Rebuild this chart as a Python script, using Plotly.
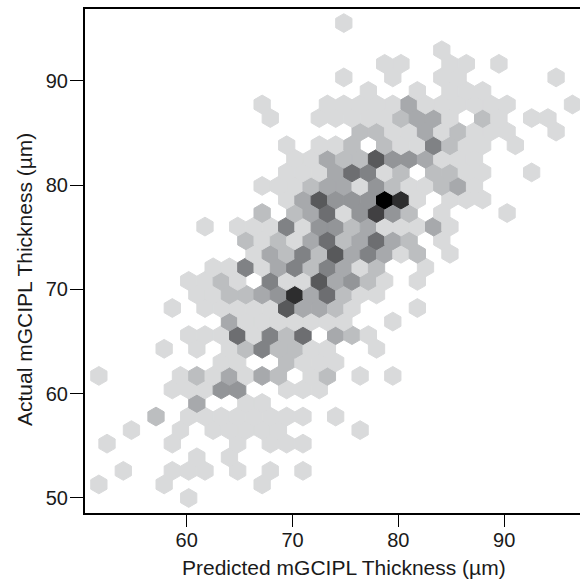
import plotly.graph_objects as go

# hexagon bin centres (um); odd rows are staggered by half a bin
predicted_even = [50.93, 52.47, 54.01, 55.56, 57.10, 58.64, 60.19, 61.73, 63.27, 64.82, 66.36, 67.90, 69.45, 70.99, 72.53, 74.08, 75.62, 77.17, 78.71, 80.25, 81.80, 83.34, 84.88, 86.43, 87.97, 89.51, 91.06, 92.60, 94.14, 95.69, 97.23]
predicted_odd = [51.70, 53.24, 54.78, 56.33, 57.87, 59.41, 60.96, 62.50, 64.04, 65.59, 67.13, 68.67, 70.22, 71.76, 73.30, 74.85, 76.39, 77.94, 79.48, 81.02, 82.57, 84.11, 85.65, 87.20, 88.74, 90.28, 91.83, 93.37, 94.91, 96.46, 98.00]
actual_rows = [50.00, 51.30, 52.60, 53.90, 55.21, 56.51, 57.81, 59.11, 60.41, 61.71, 63.01, 64.31, 65.62, 66.92, 68.22, 69.52, 70.82, 72.12, 73.42, 74.72, 76.03, 77.33, 78.63, 79.93, 81.23, 82.53, 83.83, 85.14, 86.44, 87.74, 89.04, 90.34, 91.64, 92.94, 94.24, 95.55]

row_bins = [
    [6],
    [0, 4, 10],
    [2, 5, 6, 7, 9, 11, 13],
    [6, 8],
    [1, 5, 9, 11, 12, 13],
    [2, 5, 7, 8, 9, 10, 11, 16],
    [4, 6, 7, 8, 9, 10, 11, 12, 13, 15],
    [6, 9, 10],
    [5, 6, 7, 8, 9, 12, 13, 14],
    [0, 5, 6, 7, 8, 9, 10, 11, 13, 14, 16, 18],
    [8, 9, 12, 13, 14, 15],
    [4, 6, 8, 9, 10, 11, 12, 13, 14, 17],
    [6, 7, 8, 9, 10, 11, 12, 13, 15, 16, 17],
    [8, 9, 10, 11, 12, 13, 14, 15, 18],
    [5, 7, 8, 9, 10, 11, 12, 13, 14, 15, 16, 20],
    [6, 7, 8, 9, 10, 11, 12, 13, 14, 15, 16, 17],
    [6, 7, 8, 9, 11, 12, 13, 14, 15, 16, 17, 18, 20],
    [7, 8, 9, 10, 11, 12, 13, 14, 15, 16, 17, 20],
    [10, 11, 12, 13, 14, 15, 16, 17, 18, 19, 20, 22],
    [9, 10, 11, 12, 13, 14, 15, 16, 17, 18, 19, 21],
    [7, 9, 10, 11, 12, 13, 14, 15, 16, 17, 18, 19, 20, 21, 22],
    [10, 12, 13, 14, 15, 16, 17, 18, 19, 21, 25],
    [12, 13, 14, 15, 16, 17, 18, 19, 20, 22, 23, 24],
    [10, 11, 12, 13, 14, 15, 16, 17, 18, 19, 20, 21, 22, 23],
    [12, 13, 14, 15, 16, 17, 18, 19, 21, 22, 23, 24, 27],
    [12, 13, 14, 15, 16, 17, 18, 19, 20, 21, 22, 23],
    [12, 14, 15, 16, 18, 19, 20, 21, 22, 23, 24, 26],
    [16, 17, 18, 19, 20, 21, 22, 23, 24, 25, 28],
    [11, 14, 15, 16, 17, 18, 19, 20, 21, 22, 24, 25, 27, 28],
    [10, 14, 15, 16, 17, 18, 19, 20, 21, 22, 23, 24, 25, 29],
    [17, 20, 22, 23, 24],
    [15, 18, 21, 22, 28],
    [18, 19, 22, 23, 25],
    [21],
    [],
    [15],
]
row_counts = [
    [1],
    [1, 1, 1],
    [1, 1, 1, 1, 1, 1, 1],
    [1, 1],
    [1, 1, 1, 1, 1, 1],
    [1, 1, 1, 1, 1, 1, 1, 1],
    [2, 1, 1, 1, 1, 1, 1, 1, 1, 1],
    [3, 1, 1],
    [1, 1, 1, 4, 4, 1, 1, 1],
    [1, 1, 2, 1, 3, 1, 3, 2, 1, 2, 1, 1],
    [1, 1, 2, 1, 1, 1],
    [1, 1, 1, 2, 5, 2, 2, 1, 1, 1],
    [1, 1, 1, 6, 1, 5, 2, 6, 3, 2, 1],
    [3, 1, 1, 1, 1, 1, 1, 1, 1],
    [1, 1, 1, 1, 1, 1, 7, 3, 3, 2, 1, 1],
    [1, 1, 2, 2, 3, 4, 9, 3, 6, 2, 1, 1],
    [1, 1, 2, 1, 5, 1, 1, 7, 3, 4, 2, 1, 1],
    [1, 1, 5, 1, 3, 5, 2, 5, 3, 1, 2, 1],
    [1, 3, 2, 5, 2, 7, 3, 5, 3, 1, 2, 1],
    [2, 1, 2, 1, 3, 6, 2, 3, 6, 3, 2, 1],
    [1, 1, 1, 1, 5, 1, 4, 4, 2, 3, 1, 1, 1, 3, 1],
    [2, 2, 3, 6, 1, 4, 8, 4, 2, 1, 1],
    [1, 3, 7, 4, 4, 4, 10, 9, 1, 1, 1, 1],
    [1, 1, 1, 2, 3, 3, 1, 4, 2, 1, 1, 2, 3, 1],
    [1, 1, 1, 3, 6, 5, 1, 2, 2, 2, 1, 1, 1],
    [1, 1, 3, 2, 2, 7, 4, 4, 3, 1, 1, 1],
    [1, 1, 1, 2, 2, 1, 1, 5, 2, 1, 1, 1],
    [2, 2, 1, 1, 3, 1, 2, 1, 1, 1, 1],
    [1, 1, 1, 1, 1, 1, 2, 3, 3, 1, 2, 1, 1, 1],
    [1, 1, 1, 1, 1, 1, 3, 1, 1, 1, 1, 1, 1, 1],
    [1, 1, 1, 1, 1],
    [1, 1, 1, 1, 1],
    [1, 1, 1, 1, 1],
    [1],
    [],
    [1],
]
shades = ["#ffffff", "#d9dadb", "#bcbec0", "#a7a9ac", "#939598", "#808285", "#6d6e71", "#58595b", "#414042", "#2d2d2e", "#000000"]
x_ticks = [60, 70, 80, 90]
y_ticks = [50, 60, 70, 80, 90]
x_title = "Predicted mGCIPL Thickness (µm)"
y_title = "Actual mGCIPL Thickness (µm)"

xs, ys, colors = [], [], []
for r, (bins, counts) in enumerate(zip(row_bins, row_counts)):
    centres = predicted_odd if r % 2 else predicted_even
    for b, c in zip(bins, counts):
        xs.append(centres[b])
        ys.append(actual_rows[r])
        colors.append(shades[c])

fig = go.Figure(go.Scatter(
    x=xs, y=ys, mode="markers", hoverinfo="skip",
    marker=dict(symbol="hexagon", size=18.8, color=colors, line=dict(color=colors, width=1)),
))
tick_font = dict(family="Liberation Sans", size=20, color="#1a1a1a")
title_font = dict(family="Liberation Sans", size=21, color="#1a1a1a")
fig.update_layout(
    width=580, height=579, margin=dict(l=85, r=0, t=9, b=66),
    paper_bgcolor="#ffffff", plot_bgcolor="#ffffff", showlegend=False, font=tick_font,
    annotations=[
        dict(text=x_title, xref="paper", yref="paper", x=(344 - 85) / 495, y=-(567 - 513) / 504,
             xanchor="center", yanchor="middle", showarrow=False, font=title_font),
        dict(text=y_title, xref="paper", yref="paper", x=-(85 - 24) / 495, y=(513 - 280) / 504,
             xanchor="center", yanchor="middle", textangle=-90, showarrow=False, font=title_font),
    ],
)
fig.update_xaxes(
    range=[50.39, 97.17], tickvals=x_ticks, ticks="outside", ticklen=12, tickwidth=1.3,
    tickcolor="#000000", showgrid=False, zeroline=False, showline=True, linecolor="#000000",
    linewidth=2, mirror=True, ticklabelstandoff=-4,
)
fig.update_yaxes(
    range=[48.56, 96.9], tickvals=y_ticks, ticks="outside", ticklen=13, tickwidth=1.3,
    tickcolor="#000000", showgrid=False, zeroline=False, showline=True, linecolor="#000000",
    linewidth=2, ticklabelstandoff=-2,
)
fig.write_html("out.html", config={"displayModeBar": False},
               post_script="document.body.style.margin='0';document.body.style.overflow='hidden';")
